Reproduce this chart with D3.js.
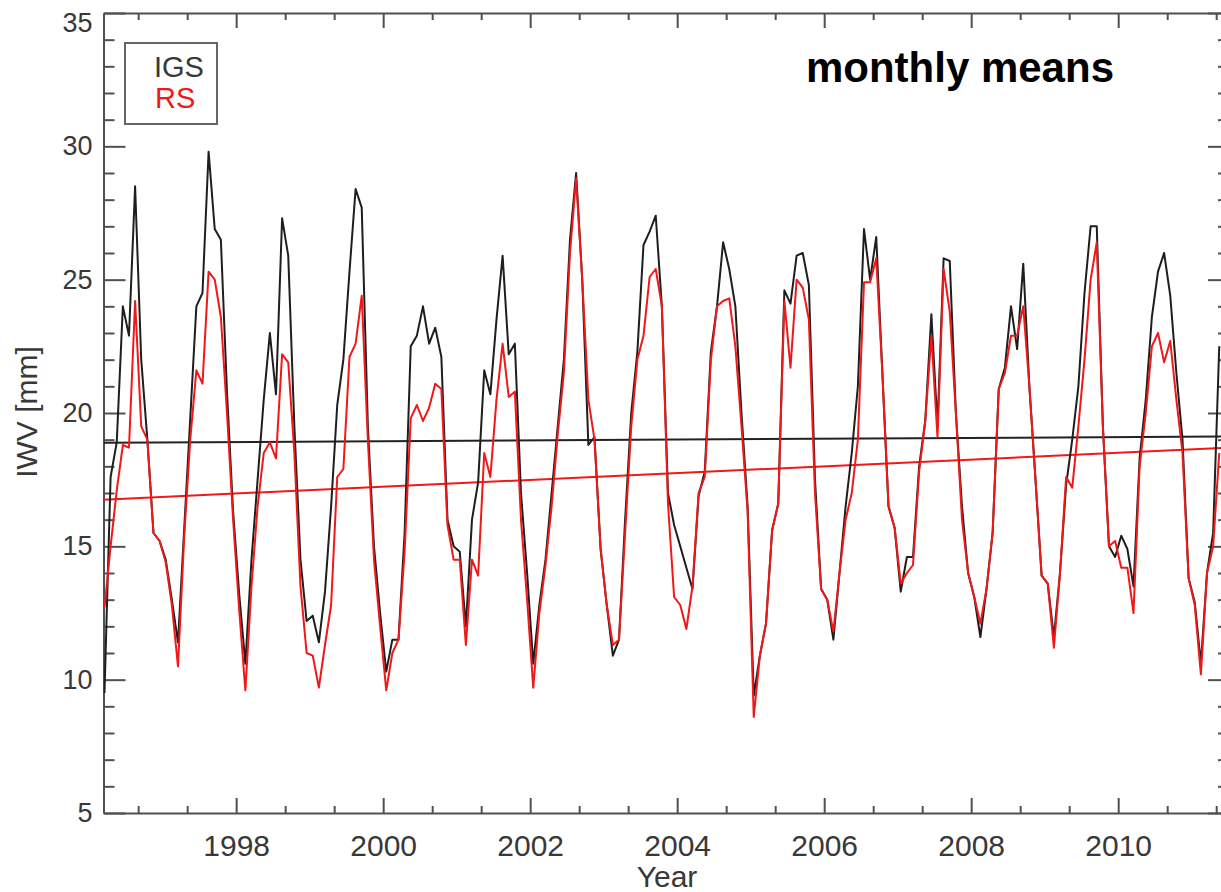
<!DOCTYPE html>
<html>
<head>
<meta charset="utf-8">
<script src="https://cdn.jsdelivr.net/npm/d3@7"></script>
<style>
  body { margin: 0; background: #fff; }
  svg { display: block; font-family: "Liberation Sans", Arial, sans-serif; }
  .axis path, .axis line { stroke: #505050; stroke-width: 2; }
  .axis text { fill: #383838; }
</style>
</head>
<body>
<svg id="chart" width="1221" height="892"></svg>
<script>
// monthly means, first value = March 1996
const startYear = 1996;
const startMonth = 3;

const igs = [
  9.5, 17.6, 18.9, 24.0, 22.9, 28.5, 22.0, 19.0, 15.5, 15.2,
  14.5, 13.0, 11.4, 15.6, 19.8, 24.0, 24.5, 29.8, 26.9, 26.5, 20.8, 16.3,
  13.2, 10.6, 14.5, 17.5, 20.5, 23.0, 20.7, 27.3, 25.9, 19.5, 14.5, 12.2,
  12.4, 11.4, 13.3, 16.5, 20.3, 22.0, 25.3, 28.4, 27.7, 19.5, 15.0, 12.5,
  10.3, 11.5, 11.5, 15.5, 22.5, 22.9, 24.0, 22.6, 23.2, 22.1, 16.0, 15.0,
  14.8, 12.0, 16.0, 17.4, 21.6, 20.7, 23.5, 25.9, 22.2, 22.6, 17.0, 14.0,
  10.6, 12.8, 14.5, 17.0, 19.5, 22.0, 26.5, 29.0, 25.0, 18.8, 19.1, 14.9,
  12.8, 10.9, 11.5, 16.0, 20.0, 22.3, 26.3, 26.8, 27.4, 24.0, 17.0, 15.8,
  15.0, 14.2, 13.4, 16.9, 17.8, 22.3, 24.0, 26.4, 25.4, 24.0, 20.0, 16.5,
  9.4, 10.9, 12.1, 15.6, 16.6, 24.6, 24.1, 25.9, 26.0, 24.8, 17.5, 13.4,
  13.0, 11.5, 14.0, 16.5, 18.5, 21.0, 26.9, 25.0, 26.6, 21.5, 16.5, 15.7,
  13.3, 14.6, 14.6, 18.0, 19.7, 23.7, 19.5, 25.8, 25.7, 20.0, 16.5, 14.0,
  13.1, 11.6, 13.4, 15.5, 20.9, 21.7, 24.0, 22.4, 25.6, 21.0, 17.5, 13.9,
  13.6, 11.6, 14.0, 17.3, 19.0, 21.0, 24.5, 27.0, 27.0, 19.5, 15.0, 14.6,
  15.4, 14.9, 13.5, 18.3, 20.5, 23.6, 25.3, 26.0, 24.4, 21.5, 19.0, 13.8,
  12.9, 10.6, 14.0, 15.5, 22.5
];

const rs = [
  12.7, 15.0, 17.1, 18.8, 18.7, 24.2, 19.5, 19.0, 15.5, 15.2,
  14.4, 12.8, 10.5, 15.3, 19.0, 21.6, 21.1, 25.3, 25.0, 23.6, 20.0, 16.0,
  12.6, 9.6, 13.5, 16.5, 18.5, 18.9, 18.3, 22.2, 21.9, 18.5, 13.5, 11.0,
  10.9, 9.7, 11.3, 12.8, 17.6, 17.9, 22.1, 22.6, 24.4, 19.0, 14.5, 12.0,
  9.6, 11.0, 11.5, 14.8, 19.8, 20.3, 19.7, 20.2, 21.1, 20.9, 15.8, 14.5,
  14.5, 11.3, 14.5, 13.9, 18.5, 17.6, 20.5, 22.6, 20.6, 20.8, 16.0, 13.0,
  9.7, 12.5, 14.3, 16.5, 19.2, 21.5, 26.0, 28.8, 25.0, 20.5, 19.0, 14.9,
  12.8, 11.3, 11.5, 15.5, 19.5, 22.0, 22.9, 25.1, 25.4, 24.0, 16.6, 13.1,
  12.8, 11.9, 13.5, 17.0, 17.6, 22.0, 24.0, 24.2, 24.3, 22.5, 19.5, 16.3,
  8.6, 10.9, 12.1, 15.6, 16.6, 24.2, 21.7, 25.0, 24.7, 23.5, 17.0, 13.4,
  13.0, 11.8, 14.0, 16.0, 17.0, 19.0, 24.9, 24.9, 25.8, 21.5, 16.5, 15.7,
  13.6, 14.0, 14.3, 17.8, 19.7, 22.9, 19.1, 25.4, 23.8, 20.0, 16.0, 14.0,
  13.1, 12.1, 13.4, 15.5, 20.9, 21.5, 22.9, 22.9, 24.0, 21.0, 17.5, 13.9,
  13.6, 11.2, 14.0, 17.6, 17.2, 19.5, 22.0, 25.0, 26.4, 19.5, 15.0, 15.2,
  14.2, 14.2, 12.5, 18.0, 20.0, 22.5, 23.0, 21.9, 22.7, 20.5, 18.5, 13.8,
  12.8, 10.2, 14.0, 15.0, 18.5
];

// linear trends, values at the two ends of the time axis
const trendIgs = [18.88, 19.12];
const trendRs = [16.75, 18.70];

const yearLabels = [1998, 2000, 2002, 2004, 2006, 2008, 2010];
const yMajor = [5, 10, 15, 20, 25, 30, 35];

const xStart = 1996.195, xEnd = 2011.494;

const svg = d3.select('#chart');
const mLeft = 103.5, mRight = 1228, mTop = 13, mBottom = 813;

const x = d3.scaleLinear().domain([xStart, xEnd]).range([mLeft, mRight]);
const y = d3.scaleLinear().domain([5, 35]).range([mBottom, mTop]);

const toSeries = arr => arr.map((v, i) => ({
  t: startYear + (startMonth - 1 + i + 0.5) / 12,
  v: v
}));

svg.append('defs').append('clipPath').attr('id', 'plot')
  .append('rect')
  .attr('x', mLeft).attr('y', mTop)
  .attr('width', mRight - mLeft).attr('height', mBottom - mTop);

const xMinor = d3.range(-2, 21).map(k => 1998 + k * 2 / 3)
  .filter(t => t > xStart && t < xEnd && Math.abs((t - 1998) / 2 - Math.round((t - 1998) / 2)) > 0.01);
const yMinor = d3.range(6, 35).filter(v => v % 5 !== 0);

// axes (ticks pointing inward on all four sides)
svg.append('g').attr('class', 'axis')
  .attr('transform', `translate(0,${mBottom})`)
  .call(d3.axisBottom(x).tickValues(yearLabels).tickFormat(d3.format('d'))
    .tickSizeInner(-15).tickSizeOuter(0).tickPadding(22))
  .call(g => g.selectAll('text').attr('font-size', 30));
svg.append('g').attr('class', 'axis')
  .attr('transform', `translate(0,${mBottom})`)
  .call(d3.axisBottom(x).tickValues(xMinor).tickFormat('').tickSizeInner(-7).tickSizeOuter(0))
  .call(g => g.select('.domain').remove());

svg.append('g').attr('class', 'axis')
  .attr('transform', `translate(0,${mTop})`)
  .call(d3.axisTop(x).tickValues(yearLabels).tickFormat('').tickSizeInner(-15).tickSizeOuter(0));
svg.append('g').attr('class', 'axis')
  .attr('transform', `translate(0,${mTop})`)
  .call(d3.axisTop(x).tickValues(xMinor).tickFormat('').tickSizeInner(-7).tickSizeOuter(0))
  .call(g => g.select('.domain').remove());

svg.append('g').attr('class', 'axis')
  .attr('transform', `translate(${mLeft},0)`)
  .call(d3.axisLeft(y).tickValues(yMajor).tickFormat(d3.format('d'))
    .tickSizeInner(-22).tickSizeOuter(0).tickPadding(11))
  .call(g => g.selectAll('text').attr('font-size', 27))
  // the top label sits a little below its tick so it stays inside the page
  .call(g => g.selectAll('.tick text').filter(d => d === 35).attr('dy', '0.7em'));
svg.append('g').attr('class', 'axis')
  .attr('transform', `translate(${mLeft},0)`)
  .call(d3.axisLeft(y).tickValues(yMinor).tickFormat('').tickSizeInner(-11).tickSizeOuter(0))
  .call(g => g.select('.domain').remove());

svg.append('g').attr('class', 'axis')
  .attr('transform', `translate(${mRight},0)`)
  .call(d3.axisRight(y).tickValues(yMajor).tickFormat('').tickSizeInner(-20).tickSizeOuter(0));
svg.append('g').attr('class', 'axis')
  .attr('transform', `translate(${mRight},0)`)
  .call(d3.axisRight(y).tickValues(yMinor).tickFormat('').tickSizeInner(-10).tickSizeOuter(0))
  .call(g => g.select('.domain').remove());

// lines
const line = d3.line().x(d => x(d.t)).y(d => y(d.v));
const plot = svg.append('g').attr('clip-path', 'url(#plot)');

plot.append('path')
  .attr('d', line([{ t: xStart, v: trendIgs[0] }, { t: xEnd, v: trendIgs[1] }]))
  .attr('fill', 'none').attr('stroke', '#222').attr('stroke-width', 2);
plot.append('path')
  .attr('d', line([{ t: xStart, v: trendRs[0] }, { t: xEnd, v: trendRs[1] }]))
  .attr('fill', 'none').attr('stroke', '#f01818').attr('stroke-width', 2);

plot.append('path')
  .attr('d', line(toSeries(igs)))
  .attr('fill', 'none').attr('stroke', '#1e1e1e').attr('stroke-width', 2)
  .attr('stroke-linejoin', 'round');
plot.append('path')
  .attr('d', line(toSeries(rs)))
  .attr('fill', 'none').attr('stroke', '#f01818').attr('stroke-width', 2)
  .attr('stroke-linejoin', 'round');

// axis titles
svg.append('text')
  .attr('x', 667).attr('y', 887)
  .attr('text-anchor', 'middle').attr('font-size', 30).attr('fill', '#383838')
  .text('Year');
svg.append('text')
  .attr('transform', 'translate(37,412) rotate(-90)')
  .attr('text-anchor', 'middle').attr('font-size', 30).attr('fill', '#383838')
  .text('IWV [mm]');

// legend
svg.append('rect')
  .attr('x', 125).attr('y', 43).attr('width', 92).attr('height', 81)
  .attr('fill', 'none').attr('stroke', '#666').attr('stroke-width', 2);
svg.append('text').attr('x', 154).attr('y', 77)
  .attr('font-size', 29).attr('fill', '#383838').text('IGS');
svg.append('text').attr('x', 155).attr('y', 108)
  .attr('font-size', 29).attr('fill', '#f01818').text('RS');

svg.append('text')
  .attr('x', 1114).attr('y', 82)
  .attr('text-anchor', 'end').attr('font-size', 42).attr('font-weight', 'bold')
  .attr('fill', '#000')
  .text('monthly means');
</script>
</body>
</html>
